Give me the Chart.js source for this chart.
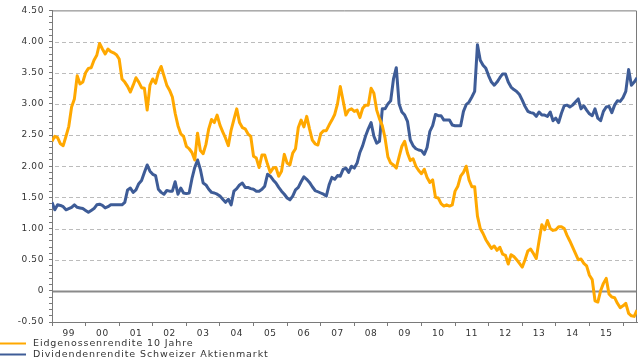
<!DOCTYPE html>
<html lang="de">
<head>
<meta charset="UTF-8">
<title>Eidgenossenrendite und Dividendenrendite</title>
<script src="https://cdn.jsdelivr.net/npm/chart.js"></script>
<style>
  html, body { margin: 0; padding: 0; background: #fff; }
  #wrap { width: 640px; height: 360px; }
</style>
</head>
<body>
<div id="wrap"><canvas id="chart" width="640" height="360"></canvas></div>
<script>
// monthly values, Jan 1999 onwards
const yearLabels = ['99', '00', '01', '02', '03', '04', '05', '06', '07', '08', '09', '10', '11', '12', '13', '14', '15'];
const seriesNames = ['Eidgenossenrendite 10 Jahre', 'Dividendenrendite Schweizer Aktienmarkt'];

const bondYield = [
  2.40, 2.48, 2.46, 2.36, 2.33, 2.48, 2.64, 2.95, 3.08, 3.45, 3.32, 3.35,
  3.50, 3.57, 3.58, 3.70, 3.78, 3.97, 3.88, 3.80, 3.88, 3.84, 3.82, 3.79,
  3.72, 3.40, 3.35, 3.28, 3.19, 3.30, 3.42, 3.35, 3.26, 3.25, 2.90, 3.30,
  3.40, 3.33, 3.50, 3.60, 3.45, 3.30, 3.22, 3.11, 2.85, 2.65, 2.52, 2.48,
  2.32, 2.28, 2.22, 2.10, 2.53, 2.25, 2.20, 2.35, 2.60, 2.75, 2.70, 2.82,
  2.66, 2.55, 2.45, 2.33, 2.58, 2.75, 2.92, 2.70, 2.62, 2.60, 2.52, 2.48,
  2.16, 2.13, 1.98, 2.18, 2.18, 2.03, 1.90, 1.97, 1.98, 1.84, 1.92, 2.19,
  2.05, 2.02, 2.21, 2.28, 2.62, 2.74, 2.63, 2.80, 2.60, 2.42, 2.36, 2.34,
  2.52, 2.57, 2.57, 2.66, 2.74, 2.83, 3.00, 3.28, 3.05, 2.82, 2.90, 2.92,
  2.88, 2.90, 2.78, 2.93, 2.98, 2.98, 3.25, 3.17, 2.90, 2.76, 2.65, 2.45,
  2.15, 2.05, 2.02, 1.97, 2.15, 2.32, 2.40, 2.21, 2.09, 2.12, 2.00, 1.93,
  1.88, 1.95, 1.82, 1.74, 1.78, 1.50, 1.49, 1.40, 1.36, 1.38, 1.36, 1.38,
  1.60, 1.68, 1.84, 1.90, 2.00, 1.78, 1.67, 1.67, 1.20, 1.00, 0.92, 0.82,
  0.75, 0.68, 0.72, 0.65, 0.70, 0.59, 0.57, 0.43, 0.58, 0.55, 0.50, 0.44,
  0.38, 0.50, 0.64, 0.67, 0.60, 0.52, 0.80, 1.06, 0.98, 1.13, 1.00, 0.97,
  0.98, 1.03, 1.03, 1.00, 0.89, 0.80, 0.70, 0.60, 0.50, 0.51, 0.44, 0.40,
  0.25, 0.18, -0.16, -0.18, 0.00, 0.12, 0.20, -0.05, -0.10, -0.11, -0.20, -0.27,
  -0.24, -0.20, -0.36, -0.40, -0.41, -0.31
];

const dividendYield = [
  1.42, 1.30, 1.38, 1.37, 1.35, 1.30, 1.32, 1.34, 1.38, 1.34, 1.33, 1.32,
  1.29, 1.26, 1.29, 1.32, 1.38, 1.39, 1.37, 1.33, 1.35, 1.38, 1.38, 1.38,
  1.38, 1.38, 1.42, 1.62, 1.65, 1.58, 1.62, 1.72, 1.77, 1.90, 2.02, 1.92,
  1.87, 1.85, 1.63, 1.58, 1.55, 1.61, 1.60, 1.60, 1.75, 1.55, 1.65, 1.57,
  1.56, 1.57, 1.80, 1.98, 2.10, 1.95, 1.73, 1.70, 1.63, 1.58, 1.57, 1.55,
  1.52, 1.47, 1.42, 1.47, 1.38, 1.60, 1.64, 1.70, 1.73, 1.66, 1.66, 1.64,
  1.63, 1.60, 1.60, 1.63, 1.68, 1.87, 1.84, 1.78, 1.73, 1.66, 1.60, 1.55,
  1.49, 1.46, 1.52, 1.62, 1.66, 1.75, 1.83, 1.79, 1.74, 1.67, 1.61, 1.59,
  1.57, 1.55, 1.52, 1.70, 1.82, 1.79, 1.85, 1.84, 1.95, 1.97, 1.90, 2.00,
  1.97, 2.05, 2.22, 2.33, 2.48, 2.60, 2.70, 2.48, 2.37, 2.40, 2.92, 2.92,
  3.00, 3.05, 3.40, 3.58, 3.00, 2.87, 2.82, 2.72, 2.42, 2.33, 2.28, 2.26,
  2.25, 2.19, 2.30, 2.56, 2.65, 2.83, 2.81, 2.81, 2.74, 2.74, 2.74, 2.66,
  2.65, 2.65, 2.65, 2.88, 2.99, 3.03, 3.11, 3.20, 3.95, 3.70, 3.62, 3.57,
  3.45, 3.35, 3.30, 3.35, 3.42, 3.48, 3.48, 3.35, 3.27, 3.23, 3.20, 3.15,
  3.06, 2.96, 2.88, 2.86, 2.85, 2.80, 2.87, 2.82, 2.82, 2.80, 2.87, 2.73,
  2.77, 2.70, 2.85, 2.97, 2.98, 2.95, 2.98, 3.03, 3.08, 2.92, 2.97, 2.90,
  2.84, 2.81, 2.92, 2.77, 2.73, 2.88, 2.95, 2.96, 2.86, 2.98, 3.05, 3.04,
  3.10, 3.20, 3.55, 3.30, 3.35, 3.42
];

const toPoints = arr => arr.map((v, i) => ({ x: i, y: v }));
const tickFont = { family: '"DejaVu Sans", sans-serif', size: 9 };
const inkColor = '#333';
const axisColor = '#7a7a7a';

// x ticks: year boundaries (marks) and mid-years (labels)
const xTickValues = [];
for (let k = 0; k <= yearLabels.length; k++) {
  xTickValues.push(k * 12);
  if (k < yearLabels.length) xTickValues.push(k * 12 + 6);
}
const yTickValues = [];
for (let i = -5; i <= 45; i++) yTickValues.push(i / 10);

const hundredths = v => Math.round(v * 100);

const framePlugin = {
  id: 'frame',
  beforeDraw(chart) {
    chart.ctx.letterSpacing = '0.6px';
  },
  beforeDatasetsDraw(chart) {
    const { ctx, chartArea: a } = chart;
    const yScale = chart.scales.y;
    ctx.save();
    // dashed grid at the labelled ticks (segments drawn one by one), solid line at zero
    yScale.ticks.forEach(t => {
      const r = hundredths(t.value);
      if (r % 50 !== 0 || r === -50 || r === 450) return;
      const py = Math.round(yScale.getPixelForValue(t.value)) + 0.5;
      ctx.beginPath();
      if (r === 0) {
        ctx.strokeStyle = '#8a8a8a';
        ctx.lineWidth = 2;
        ctx.moveTo(a.left + 1, py);
        ctx.lineTo(a.right, py);
      } else {
        ctx.strokeStyle = '#bcbcbc';
        ctx.lineWidth = 1;
        for (let x = a.left + 3; x < a.right - 1; x += 7) {
          ctx.moveTo(x, py);
          ctx.lineTo(Math.min(x + 4, a.right - 1), py);
        }
      }
      ctx.stroke();
    });
    ctx.strokeStyle = axisColor;
    ctx.lineWidth = 1;
    ctx.beginPath();
    ctx.moveTo(a.left, a.top + 0.5);
    ctx.lineTo(a.right - 0.5, a.top + 0.5);
    ctx.lineTo(a.right - 0.5, a.bottom);
    ctx.stroke();
    ctx.restore();
  },
  afterDraw(chart) {
    const ctx = chart.ctx;
    ctx.save();
    ctx.font = '9.5px "DejaVu Sans", sans-serif';
    ctx.letterSpacing = '0.9px';
    ctx.textBaseline = 'middle';
    ctx.textAlign = 'left';
    chart.data.datasets.forEach((ds, i) => {
      const y = 343.5 + i * 11;
      ctx.strokeStyle = ds.borderColor;
      ctx.lineWidth = 2;
      ctx.beginPath();
      ctx.moveTo(0, y);
      ctx.lineTo(26, y);
      ctx.stroke();
      ctx.fillStyle = inkColor;
      ctx.fillText(ds.label, 33, y);
    });
    ctx.restore();
  }
};

new Chart(document.getElementById('chart'), {
  type: 'line',
  data: {
    datasets: [
      {
        label: seriesNames[0],
        data: toPoints(bondYield),
        borderColor: '#ffa800',
        borderWidth: 3,
        pointRadius: 0,
        borderJoinStyle: 'round'
      },
      {
        label: seriesNames[1],
        data: toPoints(dividendYield),
        borderColor: '#3e5c97',
        borderWidth: 3,
        pointRadius: 0,
        borderJoinStyle: 'round'
      }
    ]
  },
  options: {
    responsive: false,
    animation: false,
    layout: { padding: { left: 0, right: 3, top: 8, bottom: 18 } },
    plugins: {
      legend: { display: false },
      tooltip: { enabled: false }
    },
    scales: {
      x: {
        type: 'linear',
        min: 0,
        max: bondYield.length - 1,
        afterBuildTicks: scale => { scale.ticks = xTickValues.map(v => ({ value: v })); },
        afterFit: scale => { scale.height = 20; },
        ticks: {
          autoSkip: false,
          maxRotation: 0,
          padding: 2,
          font: tickFont,
          color: inkColor,
          callback: v => (v % 12 === 6 ? yearLabels[(v - 6) / 12] : '')
        },
        grid: {
          drawOnChartArea: false,
          drawTicks: true,
          tickLength: 4,
          tickColor: ctx => (ctx.tick && ctx.tick.value % 12 === 0 ? axisColor : 'rgba(0,0,0,0)')
        },
        border: { display: true, color: axisColor, width: 1 }
      },
      y: {
        min: -0.5,
        max: 4.5,
        afterBuildTicks: scale => { scale.ticks = yTickValues.map(v => ({ value: v })); },
        afterFit: scale => { scale.width = 52; },
        ticks: {
          autoSkip: false,
          padding: 5,
          font: tickFont,
          color: inkColor,
          callback: v => {
            const r = hundredths(v);
            if (r % 50 !== 0) return '';
            return r === 0 ? '0' : (r / 100).toFixed(2);
          }
        },
        grid: {
          drawOnChartArea: false,
          drawTicks: true,
          tickLength: 3,
          tickColor: axisColor
        },
        border: { display: true, color: axisColor, width: 1 }
      }
    }
  },
  plugins: [framePlugin]
});
</script>
</body>
</html>
